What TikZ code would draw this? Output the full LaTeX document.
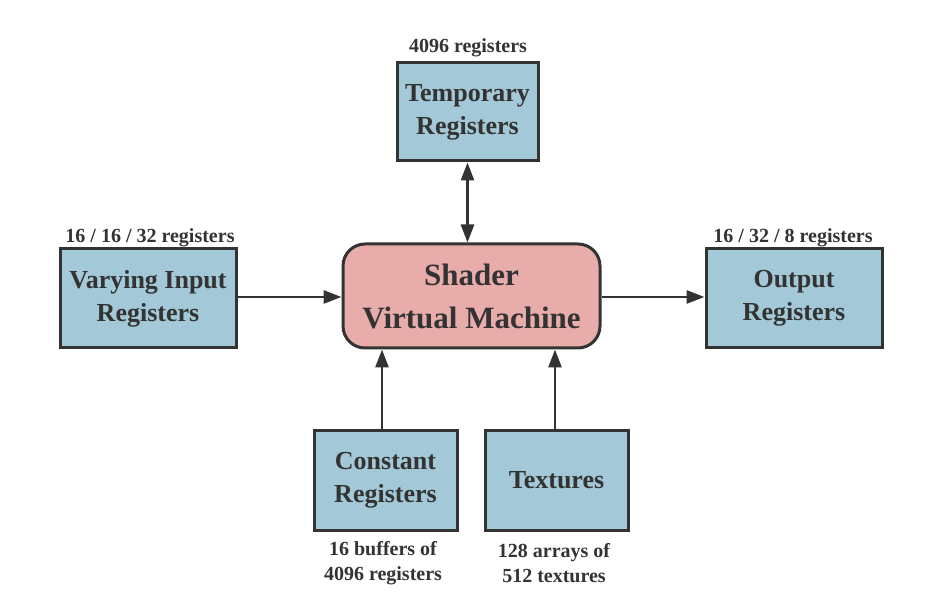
\documentclass[tikz,border=0pt]{standalone}
\usepackage{fontspec}
\setmainfont{Liberation Serif}
\usetikzlibrary{arrows.meta}
\definecolor{boxblue}{RGB}{163,201,216}
\definecolor{boxpink}{RGB}{232,172,170}
\definecolor{ink}{RGB}{51,51,51}
\tikzset{
  regbox/.style={draw=ink, line width=3pt, fill=boxblue, text=ink, align=center,
    inner sep=0pt, font=\fontsize{26}{33}\selectfont\bfseries},
  vmbox/.style={draw=ink, line width=3pt, fill=boxpink, text=ink, align=center,
    inner sep=0pt, rounded corners=22pt, font=\fontsize{31}{43}\selectfont\bfseries},
  caption/.style={text=ink, align=center, inner sep=0pt, font=\fontsize{20}{25}\selectfont\bfseries},
  conn/.style={draw=ink, line width=2.8pt, -{Triangle[length=18pt,width=13pt]}},
  dconn/.style={draw=ink, line width=2.8pt, {Triangle[length=18pt,width=13pt]}-{Triangle[length=18pt,width=13pt]}},
}
\begin{document}
\begin{tikzpicture}[x=1pt,y=-1pt]
\useasboundingbox (0,0) rectangle (935,601);
\node[regbox, minimum width=141pt, minimum height=98pt] (temp) at (467.5,112) {Temporary\\Registers};
\node[vmbox, minimum width=257pt, minimum height=104pt] (vm) at (471.5,296) {Shader\\Virtual Machine};
\node[regbox, minimum width=176pt, minimum height=99pt] (vary) at (148,298.5) {Varying Input\\Registers};
\node[regbox, minimum width=176pt, minimum height=99pt] (out) at (794,298.5) {Output\\Registers};
\node[regbox, minimum width=143pt, minimum height=99pt] (const) at (385.5,480.5) {Constant\\Registers};
\node[regbox, minimum width=143pt, minimum height=99pt] (tex) at (556.5,480.5) {Textures};
\node[caption] (ltemp) at (468,48) {4096 registers};
\node[caption] (lvary) at (150,238) {16 / 16 / 32 registers};
\node[caption] (lout) at (793,238) {16 / 32 / 8 registers};
\node[caption] (lconst) at (383,563) {16 buffers of\\4096 registers};
\node[caption] (ltex) at (554,563) {128 arrays of\\512 textures};
\draw[dconn] (temp.south) -- (temp.south |- vm.north);
\draw[conn] (vary.east |- 0,297) -- (vm.west |- 0,297);
\draw[conn] (vm.east |- 0,297) -- (out.west |- 0,297);
\draw[conn] (const.north -| 382,0) -- (vm.south -| 382,0);
\draw[conn] (tex.north -| 555,0) -- (vm.south -| 555,0);
\end{tikzpicture}
\end{document}
